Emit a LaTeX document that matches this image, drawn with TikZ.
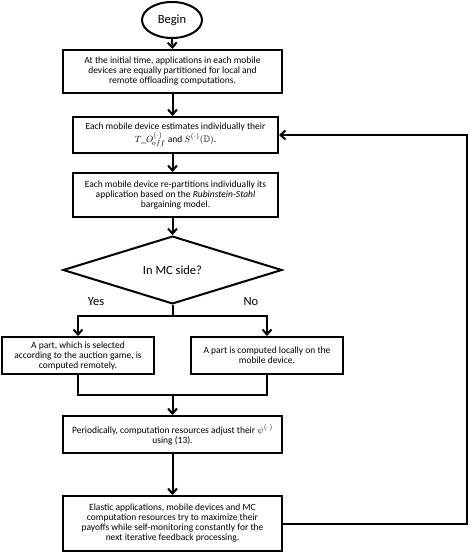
\documentclass[tikz,border=0pt]{standalone}
\usepackage{amssymb}
\usepackage{fontspec}
\setmainfont{Carlito}
\usetikzlibrary{shapes.geometric,arrows.meta}
\begin{document}
\begin{tikzpicture}[x=1pt,y=-1pt,
  every node/.style={font=\fontsize{9.5}{10}\selectfont},
  box/.style={draw,line width=2pt,rectangle,align=center,inner sep=1pt},
  conn/.style={line width=2pt},
  arr/.style={line width=2pt,-{Straight Barb[length=5pt,width=9pt,line width=2pt]}},
  lbl/.style={font=\fontsize{12.5}{14}\selectfont}]
\useasboundingbox (0,0) rectangle (472,553);
\node[draw,line width=2pt,ellipse,minimum width=60pt,minimum height=36pt,inner sep=0pt,lbl] (begin) at (172,20) {Begin};
\node[box,minimum width=219pt,minimum height=43pt] (b1) at (172.5,71.5)
 {At the initial time, applications in each mobile\\ devices are equally partitioned for local and\\ remote offloading computations.};
\node[box,minimum width=205pt,minimum height=36pt] (b2) at (175.5,135)
 {Each mobile device estimates individually their\\ $T\_O^{(\cdot)}_{\!off}$ and $S^{(\cdot)}(\mathbb{D})$.};
\node[box,minimum width=205pt,minimum height=44pt] (b3) at (175.5,195)
 {Each mobile device re-partitions individually its\\ application based on the \textit{Rubinstein-Stahl}\\ bargaining model.};
\node[draw,line width=2pt,diamond,minimum width=219pt,minimum height=47pt,inner sep=0pt,lbl] (dec) at (172.5,270) {In MC side?};
\node[lbl] (yes) at (96,302) {Yes};
\node[lbl] (no) at (251,302) {No};
\coordinate (split) at (172.5,316);
\node[box,minimum width=152pt,minimum height=37pt] (b4l) at (78,355.5)
 {A part, which is selected\\ according to the auction game, is\\ computed remotely.};
\node[box,minimum width=152pt,minimum height=37pt] (b4r) at (267,355.5)
 {A part is computed locally on the\\ mobile device.};
\coordinate (merge) at (172.5,395);
\node[box,minimum width=219pt,minimum height=37pt] (b5) at (172.5,434.5)
 {Periodically, computation resources adjust their $\psi^{(\cdot)}$\\ using (13).};
\node[box,minimum width=219pt,minimum height=55pt] (b6) at (172.5,523.5)
 {Elastic applications, mobile devices and MC\\ computation resources try to maximize their\\ payoffs while self-monitoring constantly for the\\ next iterative feedback processing.};
\coordinate (fb) at (467,0);
\draw[arr] (begin.south) -- (b1.north);
\draw[arr] (b1.south) -- (b1.south |- b2.north);
\draw[arr] (b1.south |- b2.south) -- (b1.south |- b3.north);
\draw[arr] (b1.south |- b3.south) -- (dec.north);
\draw[conn] (dec.south) -- (split);
\draw[arr] (split) -| (b4l.north);
\draw[arr] (split) -| (b4r.north);
\draw[conn] (b4l.south) |- (merge);
\draw[conn] (b4r.south) |- (merge);
\draw[arr] (merge) -- (b5.north);
\draw[arr] (b5.south) -- (b6.north);
\draw[arr] (b6.east) -- (b6.east -| fb) -- (b2.east -| fb) -- (b2.east);
\end{tikzpicture}
\end{document}
